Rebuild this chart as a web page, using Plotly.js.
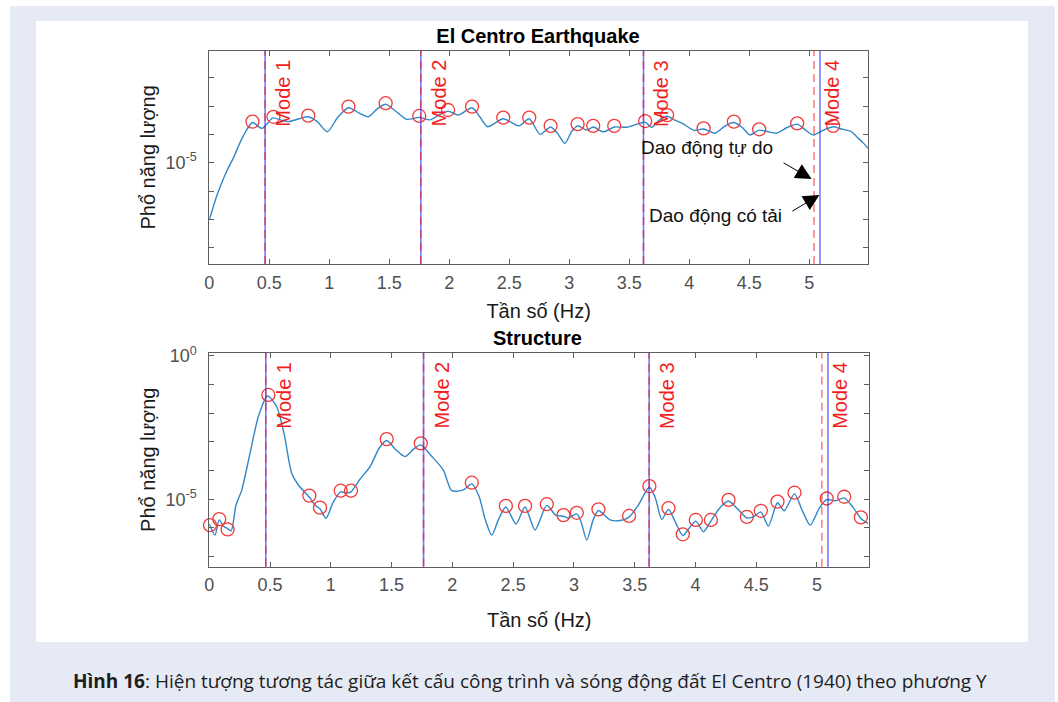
<!DOCTYPE html>
<html><head><meta charset="utf-8">
<script src="https://cdn.plot.ly/plotly-3.0.1.min.js"></script>
<style>html,body{margin:0;padding:0;background:#fff}#chart{width:1058px;height:702px}</style>
</head><body><div id="chart"></div>
<script>
// ---------- data ----------
const topFreq = [0, 0.06, 0.10, 0.15, 0.20, 0.28, 0.36, 0.44, 0.53, 0.60, 0.66, 0.75, 0.825, 0.90, 0.985, 1.07, 1.16, 1.25, 1.325, 1.40, 1.47, 1.56, 1.645, 1.75, 1.84, 1.92, 1.99, 2.075, 2.19, 2.25, 2.32, 2.45, 2.58, 2.667, 2.756, 2.845, 2.90, 2.964, 3.02, 3.07, 3.145, 3.20, 3.284, 3.375, 3.478, 3.56, 3.633, 3.686, 3.75, 3.816, 3.88, 3.95, 4.04, 4.12, 4.214, 4.30, 4.372, 4.44, 4.506, 4.583, 4.65, 4.728, 4.82, 4.90, 4.97, 5.033, 5.12, 5.20, 5.26, 5.31, 5.35, 5.40, 5.45, 5.49];
const topPower = [9.55e-8, 6.31e-7, 1.78e-6, 5.50e-6, 1.45e-5, 8.32e-5, 2.63e-4, 1.62e-4, 3.80e-4, 3.16e-4, 2.82e-4, 3.55e-4, 4.17e-4, 2.82e-4, 1.23e-4, 3.98e-4, 8.71e-4, 5.62e-4, 4.17e-4, 7.94e-4, 1.15e-3, 6.31e-4, 3.39e-4, 3.98e-4, 3.24e-4, 5.01e-4, 6.61e-4, 4.79e-4, 8.71e-4, 4.47e-4, 1.86e-4, 3.55e-4, 2.0e-4, 3.55e-4, 1.0e-4, 1.82e-4, 1.12e-4, 4.79e-5, 1.26e-4, 2.0e-4, 1.41e-4, 1.82e-4, 1.23e-4, 1.82e-4, 1.78e-4, 2.24e-4, 2.69e-4, 1.78e-4, 3.16e-4, 4.37e-4, 3.16e-4, 2.34e-4, 1.38e-4, 1.55e-4, 1.10e-4, 2.0e-4, 2.63e-4, 1.78e-4, 9.55e-5, 1.41e-4, 1.26e-4, 1.10e-4, 1.78e-4, 2.29e-4, 1.41e-4, 9.55e-5, 1.41e-4, 1.86e-4, 1.58e-4, 1.41e-4, 1.26e-4, 7.94e-5, 5.01e-5, 3.24e-5];
const topPeakFreq = [0.36, 0.535, 0.825, 1.16, 1.47, 1.75, 1.99, 2.19, 2.45, 2.667, 2.845, 3.07, 3.2, 3.375, 3.633, 3.816, 4.12, 4.372, 4.583, 4.9, 5.2];
const topPeakPower = [2.82e-4, 4.17e-4, 4.57e-4, 9.55e-4, 1.26e-3, 4.47e-4, 7.24e-4, 9.55e-4, 3.89e-4, 3.89e-4, 2.0e-4, 2.29e-4, 2.0e-4, 2.0e-4, 2.95e-4, 4.79e-4, 1.62e-4, 2.82e-4, 1.51e-4, 2.45e-4, 2.0e-4];

const botFreq = [0, 0.047, 0.082, 0.12, 0.151, 0.18, 0.22, 0.267, 0.335, 0.403, 0.47, 0.486, 0.555, 0.615, 0.678, 0.733, 0.823, 0.87, 0.911, 0.96, 1.02, 1.081, 1.12, 1.166, 1.24, 1.323, 1.40, 1.46, 1.53, 1.611, 1.68, 1.74, 1.83, 1.926, 1.995, 2.09, 2.16, 2.22, 2.27, 2.324, 2.38, 2.44, 2.524, 2.598, 2.68, 2.777, 2.85, 2.914, 2.95, 3.024, 3.06, 3.106, 3.16, 3.202, 3.298, 3.38, 3.454, 3.53, 3.621, 3.67, 3.723, 3.778, 3.83, 3.896, 3.95, 4.003, 4.066, 4.127, 4.20, 4.272, 4.35, 4.423, 4.48, 4.538, 4.60, 4.675, 4.73, 4.815, 4.88, 4.944, 5.02, 5.08, 5.15, 5.224, 5.30, 5.361, 5.42];
const botPower = [1.41e-6, 5.62e-7, 1.91e-6, 1.12e-6, 9.55e-7, 7.94e-7, 6.31e-6, 2.09e-5, 3.98e-4, 7.59e-3, 3.80e-2, 3.98e-2, 1.70e-2, 2.0e-3, 8.13e-5, 3.16e-5, 1.20e-5, 6.31e-6, 4.68e-6, 2.19e-6, 7.94e-6, 1.82e-5, 1.66e-5, 1.82e-5, 5.01e-5, 1.38e-4, 6.31e-4, 1.12e-3, 5.62e-4, 3.09e-4, 5.62e-4, 7.94e-4, 3.16e-4, 1.05e-4, 2.0e-5, 2.14e-5, 3.47e-5, 1.26e-5, 2.0e-6, 5.62e-7, 2.0e-6, 5.37e-6, 1.38e-6, 5.37e-6, 8.51e-7, 6.17e-6, 2.82e-6, 2.57e-6, 2.24e-6, 3.09e-6, 1.58e-6, 3.80e-7, 2.0e-6, 4.07e-6, 1.91e-6, 1.82e-6, 2.40e-6, 6.31e-6, 2.63e-5, 1.12e-5, 2.0e-6, 4.47e-6, 1.78e-6, 5.50e-7, 1.0e-6, 1.74e-6, 7.41e-7, 1.74e-6, 5.01e-6, 8.71e-6, 4.47e-6, 2.24e-6, 2.51e-6, 3.63e-6, 1.17e-6, 7.59e-6, 3.98e-6, 1.55e-5, 3.98e-6, 1.26e-6, 5.01e-6, 9.77e-6, 8.91e-6, 1.12e-5, 5.01e-6, 2.14e-6, 1.45e-6];
const botPeakFreq = [0.006, 0.082, 0.151, 0.486, 0.823, 0.911, 1.081, 1.166, 1.46, 1.74, 2.16, 2.44, 2.598, 2.777, 2.914, 3.024, 3.202, 3.454, 3.621, 3.778, 3.896, 4.003, 4.127, 4.272, 4.423, 4.538, 4.675, 4.815, 5.08, 5.224, 5.361];
const botPeakPower = [1.26e-6, 2.04e-6, 8.91e-7, 4.37e-2, 1.35e-5, 5.13e-6, 2.0e-5, 2.0e-5, 1.26e-3, 8.91e-4, 3.80e-5, 5.89e-6, 5.89e-6, 6.76e-6, 2.82e-6, 3.39e-6, 4.47e-6, 2.63e-6, 2.88e-5, 4.90e-6, 6.03e-7, 1.91e-6, 1.91e-6, 9.55e-6, 2.45e-6, 3.98e-6, 8.32e-6, 1.70e-5, 1.07e-5, 1.23e-5, 2.34e-6];

const modeNames = ['Mode 1', 'Mode 2', 'Mode 3', 'Mode 4'];
const loadedModeFreq = [0.465, 1.763, 3.619, 5.09];  // Dao động có tải (solid blue)
const freeModeFreq = [0.465, 1.763, 3.619, 5.04];    // Dao động tự do (dashed red)

const xTickVals = [0, 0.5, 1, 1.5, 2, 2.5, 3, 3.5, 4, 4.5, 5];
const xTickText = ['0', '0.5', '1', '1.5', '2', '2.5', '3', '3.5', '4', '4.5', '5'];
const topYTickVals = [1e-5];
const topYTickText = ['10<sup>-5</sup>'];
const topYMinorVals = [1e-8, 1e-7, 1e-6, 1e-4, 1e-3, 1e-2];
const botYTickVals = [1e-5, 1e0];
const botYTickText = ['10<sup>-5</sup>', '10<sup>0</sup>'];
const botYMinorVals = [1e-7, 1e-6, 1e-4, 1e-3, 1e-2, 1e-1];

const topTitle = 'El Centro Earthquake';
const botTitle = 'Structure';
const xLabel = 'Tần số (Hz)';
const yLabel = 'Phổ năng lượng';
const freeLabel = 'Dao động tự do';
const loadedLabel = 'Dao động có tải';
const caption = '<b>Hình 16</b>: Hiện tượng tương tác giữa kết cấu công trình và sóng động đất El Centro (1940) theo phương Y';

// ---------- styling ----------
const FONT = 'Liberation Sans, Arial, sans-serif';
const CURVE = '#2f87c8';
const PEAK = '#f03a3a';
const BLUE = 'rgba(40,40,255,0.62)';
const RED = 'rgba(255,0,0,0.5)';
const AXC = '#5e5e5e';

function axisBase() {
  return {
    showgrid: false, zeroline: false, showline: true, linecolor: AXC, linewidth: 1,
    mirror: 'ticks', ticks: 'inside', ticklen: 5, tickwidth: 1, tickcolor: AXC,
    tickfont: {family: FONT, size: 18, color: '#505050'}, ticklabelstandoff: 8,
    automargin: false, fixedrange: true
  };
}
function minorTicks(vals) {
  return {tickmode: 'array', tickvals: vals, ticks: 'inside', ticklen: 5, tickwidth: 1, tickcolor: AXC, showgrid: false};
}
const titleFont = {family: FONT, size: 20, color: '#1a1a1a'};

const traces = [
  {x: topFreq, y: topPower, xaxis: 'x', yaxis: 'y', mode: 'lines',
   line: {color: CURVE, width: 1.4, shape: 'spline', smoothing: 0.7}, hoverinfo: 'skip'},
  {x: topPeakFreq, y: topPeakPower, xaxis: 'x', yaxis: 'y', mode: 'markers', cliponaxis: false,
   marker: {symbol: 'circle-open', size: 13, color: PEAK, line: {width: 1.3}}},
  {x: botFreq, y: botPower, xaxis: 'x2', yaxis: 'y2', mode: 'lines',
   line: {color: CURVE, width: 1.4, shape: 'spline', smoothing: 0.7}, hoverinfo: 'skip'},
  {x: botPeakFreq, y: botPeakPower, xaxis: 'x2', yaxis: 'y2', mode: 'markers', cliponaxis: false,
   marker: {symbol: 'circle-open', size: 13, color: PEAK, line: {width: 1.3}}}
];

const shapes = [
  {type: 'rect', xref: 'paper', yref: 'paper', x0: 0.00945, x1: 0.99716, y0: 0, y1: 0.99145,
   fillcolor: '#e6eaf5', line: {width: 0}, layer: 'below'},
  {type: 'rect', xref: 'paper', yref: 'paper', x0: 0.034, x1: 0.97164, y0: 0.08547, y1: 0.97009,
   fillcolor: '#ffffff', line: {width: 0}, layer: 'below'}
];
const annotations = [];
[['x', 'y'], ['x2', 'y2']].forEach(([xa, ya]) => {
  loadedModeFreq.forEach(f => shapes.push({type: 'line', xref: xa, yref: ya + ' domain', x0: f, x1: f, y0: 0, y1: 1,
    line: {color: BLUE, width: 1.6}}));
  freeModeFreq.forEach(f => shapes.push({type: 'line', xref: xa, yref: ya + ' domain', x0: f, x1: f, y0: 0, y1: 1,
    line: {color: RED, width: 1.6, dash: '8px,5px'}}));
  freeModeFreq.forEach((f, i) => annotations.push({xref: xa, yref: ya + ' domain', x: f + 0.152, y: 0.80,
    text: modeNames[i], textangle: -90, showarrow: false, xanchor: 'center', yanchor: 'middle',
    font: {family: FONT, size: 20, color: '#f01e1e'}}));
});

annotations.push(
  {xref: 'x', yref: 'y domain', x: freeModeFreq[3] - 0.02, y: 0.398, ax: -31, ay: -18, text: ' ',
   showarrow: true, arrowhead: 2, arrowsize: 3.2, arrowwidth: 1, arrowcolor: '#000', standoff: 0},
  {xref: 'x', yref: 'y domain', x: loadedModeFreq[3] - 0.005, y: 0.324, ax: -30, ay: 18, text: ' ',
   showarrow: true, arrowhead: 2, arrowsize: 3.2, arrowwidth: 1, arrowcolor: '#000', standoff: 0},
  {xref: 'x', yref: 'y domain', x: 4.152, y: 0.545, text: freeLabel, showarrow: false,
   font: {family: FONT, size: 19, color: '#111'}},
  {xref: 'x', yref: 'y domain', x: 4.218, y: 0.17, text: loadedLabel, showarrow: false,
   font: {family: FONT, size: 19, color: '#111'}},
  {xref: 'paper', yref: 'paper', x: 0.5076, y: 0.5192, text: '<b>' + botTitle + '</b>', showarrow: false,
   xanchor: 'center', yanchor: 'middle', font: {family: FONT, size: 20, color: '#000'}},
  {xref: 'paper', yref: 'paper', x: 0.5005, y: 0.0299, text: caption, showarrow: false,
   xanchor: 'center', yanchor: 'middle', font: {family: 'Open Sans, Noto Sans, sans-serif', size: 19, color: '#1e1e1e'}}
);

const layout = {
  width: 1058, height: 702, margin: {l: 0, r: 0, t: 0, b: 0},
  paper_bgcolor: '#ffffff', plot_bgcolor: 'rgba(0,0,0,0)', showlegend: false,
  font: {family: FONT},
  title: {text: '<b>' + topTitle + '</b>', xref: 'paper', yref: 'paper', x: 0.5085, y: 0.9487,
          xanchor: 'center', yanchor: 'middle', font: {family: FONT, size: 20, color: '#000'}},
  xaxis: Object.assign(axisBase(), {domain: [0.1978, 0.8204], range: [0, 5.49], anchor: 'y',
    tickmode: 'array', tickvals: xTickVals, ticktext: xTickText, ticklabelstandoff: 2,
    title: {text: xLabel, font: titleFont, standoff: 12}}),
  yaxis: Object.assign(axisBase(), {type: 'log', domain: [0.6239, 0.9278], range: [-8.576, -1.047], anchor: 'x',
    tickmode: 'array', tickvals: topYTickVals, ticktext: topYTickText, minor: minorTicks(topYMinorVals),
    title: {text: yLabel, font: titleFont, standoff: 4}}),
  xaxis2: Object.assign(axisBase(), {domain: [0.1978, 0.8216], range: [0, 5.43], anchor: 'y2',
    tickmode: 'array', tickvals: xTickVals, ticktext: xTickText, ticklabelstandoff: 2,
    title: {text: xLabel, font: titleFont, standoff: 18}}),
  yaxis2: Object.assign(axisBase(), {type: 'log', domain: [0.1927, 0.4976], range: [-7.351, 0.115], anchor: 'x2',
    tickmode: 'array', tickvals: botYTickVals, ticktext: botYTickText, minor: minorTicks(botYMinorVals),
    title: {text: yLabel, font: titleFont, standoff: 4}}),
  shapes: shapes,
  annotations: annotations
};

Plotly.newPlot('chart', traces, layout, {displayModeBar: false, responsive: false});
</script>
</body></html>
